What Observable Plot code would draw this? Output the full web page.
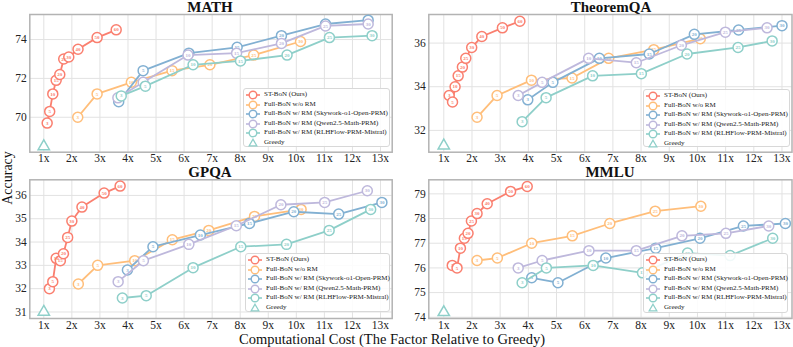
<!DOCTYPE html>
<html><head><meta charset="utf-8">
<script src="https://cdn.jsdelivr.net/npm/d3@7"></script>
<script src="https://cdn.jsdelivr.net/npm/@observablehq/plot@0.6"></script>
<style>
body{margin:0;background:#fff;}
#wrap{position:relative;width:793px;height:347px;overflow:hidden;font-family:"Liberation Serif",serif;}
.panel{position:absolute;}
.panel svg{overflow:visible;}
.legend{position:absolute;background:rgba(255,255,255,0.88);border:1px solid #d8d8d8;border-radius:3px;box-sizing:border-box;font-size:7px;color:#222;padding-top:1px;}
.legend .row{height:9.6px;line-height:9.6px;white-space:nowrap;position:relative;}
.legend .row svg{position:absolute;left:1px;top:0;}
.legend .row span{position:absolute;left:20px;top:0;}
#labels{position:absolute;left:0;top:0;}
</style></head>
<body><div id="wrap"><svg id="labels" width="793" height="347"></svg></div>
<script>
// ---------- data ----------
const seriesNames = ["ST-BoN (Ours)","Full-BoN w/o RM","Full-BoN w/ RM (Skywork-o1-Open-PRM)","Full-BoN w/ RM (Qwen2.5-Math-PRM)","Full-BoN w/ RM (RLHFlow-PRM-Mistral)"];
const seriesColors = ["#FA7F6F","#FFBE7A","#82B0D2","#BEB8DC","#8ECFC9"];
const greedyName = "Greedy";
const greedyColor = "#8ECFC9";
const stN = [3,5,10,15,20,25,30,40,50,60];
const fullN = [3,5,10,15,20,25,30];
const xTicks = [1,2,3,4,5,6,7,8,9,10,11,12,13];

// MATH
const mathStCost = [1.12,1.21,1.32,1.44,1.57,1.71,1.89,2.22,2.90,3.58];
const mathStAcc  = [69.7,70.3,71.2,71.9,72.2,73.0,73.1,73.5,74.1,74.5];
const mathNoRmCost = [2.21,2.90,4.12,5.57,6.92,8.48,10.15];
const mathNoRmAcc  = [70.0,71.2,71.8,72.4,72.7,73.2,73.9];
const mathSkyCost = [3.67,4.54,6.17,7.89,9.47,11.04,12.56];
const mathSkyAcc  = [70.8,72.4,73.3,73.6,74.2,74.8,75.0];
const mathQwenCost = [3.64,4.54,6.14,7.87,9.47,11.04,12.56];
const mathQwenAcc  = [71.0,71.8,73.2,73.3,73.8,74.7,74.8];
const mathRlhfCost = [3.76,4.62,6.32,8.01,9.67,11.18,12.70];
const mathRlhfAcc  = [71.1,71.6,72.7,72.9,73.2,74.1,74.2];
const mathGreedy = 68.5;
const mathYTicks = [70,72,74];

// TheoremQA
const thmStCost = [1.19,1.31,1.40,1.51,1.66,1.78,1.99,2.35,3.08,3.70];
const thmStAcc  = [33.6,33.3,34.0,34.5,34.9,35.3,35.8,36.3,36.7,37.0];
const thmNoRmCost = [2.18,2.89,4.11,5.55,6.85,8.45,10.10];
const thmNoRmAcc  = [32.6,33.6,34.3,34.4,35.3,35.7,36.2];
const thmSkyCost = [3.98,4.87,6.52,8.29,9.89,11.46,13.00];
const thmSkyAcc  = [33.4,34.2,35.3,35.5,36.4,36.6,36.8];
const thmQwenCost = [3.64,4.49,6.14,7.83,9.43,10.99,12.47];
const thmQwenAcc  = [33.6,34.2,35.3,35.1,35.9,36.5,36.7];
const thmRlhfCost = [3.78,4.63,6.28,8.01,9.63,11.44,12.65];
const thmRlhfAcc  = [32.4,33.5,34.5,34.6,35.5,35.8,36.1];
const thmGreedy = 31.3;
const thmYTicks = [32,34,36];

// GPQA
const gpqaStCost = [1.20,1.32,1.44,1.59,1.70,1.85,2.00,2.36,3.15,3.72];
const gpqaStAcc  = [32.0,32.3,33.3,33.2,33.5,34.2,34.9,35.5,36.1,36.4];
const gpqaNoRmCost = [2.23,2.92,4.24,5.58,6.88,8.51,10.17];
const gpqaNoRmAcc  = [32.2,33.0,33.2,34.1,34.5,35.1,35.4];
const gpqaSkyCost = [3.98,4.89,6.58,8.33,9.91,11.51,13.05];
const gpqaSkyAcc  = [32.8,33.8,34.3,34.8,35.3,35.2,35.7];
const gpqaQwenCost = [3.65,4.55,6.17,7.86,9.45,11.01,12.53];
const gpqaQwenAcc  = [32.3,33.2,33.9,34.7,35.6,35.7,36.2];
const gpqaRlhfCost = [3.80,4.65,6.32,8.02,9.65,11.17,12.65];
const gpqaRlhfAcc  = [31.6,31.7,32.9,33.8,33.9,34.5,35.4];
const gpqaGreedy = 31.0;
const gpqaYTicks = [31,32,33,34,35,36];

// MMLU
const mmluStCost = [1.30,1.47,1.59,1.73,1.86,1.98,2.18,2.54,3.37,3.96];
const mmluStAcc  = [76.1,76.0,76.8,77.2,77.4,77.9,78.2,78.6,79.1,79.3];
const mmluNoRmCost = [2.18,2.90,4.12,5.56,6.89,8.50,10.12];
const mmluNoRmAcc  = [76.3,76.4,77.0,77.3,77.8,78.3,78.5];
const mmluSkyCost = [4.12,5.05,6.75,8.52,10.09,11.63,13.12];
const mmluSkyAcc  = [75.6,75.4,76.4,76.8,77.2,77.7,77.8];
const mmluQwenCost = [3.64,4.49,6.15,7.83,9.45,11.01,12.53];
const mmluQwenAcc  = [76.0,76.3,76.7,76.7,77.3,77.4,77.7];
const mmluRlhfCost = [3.78,4.64,6.30,8.05,9.65,11.16,12.67];
const mmluRlhfAcc  = [75.4,76.0,76.1,75.8,76.6,76.5,77.2];
const mmluGreedy = 74.2;
const mmluYTicks = [74,75,76,77,78,79];

// ---------- build ----------
function rowsOf(costs, accs, ns, key){
  return costs.map((c,i)=>({key, cost:c, acc:accs[i], n:ns[i]}));
}
const panels = [
  {title:"MATH", left:0, top:0, w:396, h:170, mt:14, mb:18.3, ml:29.3, mr:4.3, xdom:[0.501,13.417], ydom:[68.2,75.29], yticks:mathYTicks, greedy:mathGreedy,
   data:[[mathStCost,mathStAcc,stN],[mathNoRmCost,mathNoRmAcc,fullN],[mathSkyCost,mathSkyAcc,fullN],[mathQwenCost,mathQwenAcc,fullN],[mathRlhfCost,mathRlhfAcc,fullN]],
   legend:{left:243,top:88,w:147,h:59}, tx:210, ty:12},
  {title:"TheoremQA", left:396, top:0, w:397, h:170, mt:14, mb:18.3, ml:32.3, mr:1.5, xdom:[0.468,13.355], ydom:[31.0,37.31], yticks:thmYTicks, greedy:thmGreedy,
   data:[[thmStCost,thmStAcc,stN],[thmNoRmCost,thmNoRmAcc,fullN],[thmSkyCost,thmSkyAcc,fullN],[thmQwenCost,thmQwenAcc,fullN],[thmRlhfCost,thmRlhfAcc,fullN]],
   legend:{left:643,top:89,w:147,h:58}, tx:611, ty:12},
  {title:"GPQA", left:0, top:166, w:396, h:170, mt:13.3, mb:18, ml:29.3, mr:4.3, xdom:[0.501,13.417], ydom:[30.72,36.67], yticks:gpqaYTicks, greedy:gpqaGreedy,
   data:[[gpqaStCost,gpqaStAcc,stN],[gpqaNoRmCost,gpqaNoRmAcc,fullN],[gpqaSkyCost,gpqaSkyAcc,fullN],[gpqaQwenCost,gpqaQwenAcc,fullN],[gpqaRlhfCost,gpqaRlhfAcc,fullN]],
   legend:{left:245,top:253,w:145,h:59}, tx:210, ty:177},
  {title:"MMLU", left:396, top:166, w:397, h:170, mt:13.3, mb:18, ml:32.3, mr:1.5, xdom:[0.468,13.355], ydom:[73.95,79.57], yticks:mmluYTicks, greedy:mmluGreedy,
   data:[[mmluStCost,mmluStAcc,stN],[mmluNoRmCost,mmluNoRmAcc,fullN],[mmluSkyCost,mmluSkyAcc,fullN],[mmluQwenCost,mmluQwenAcc,fullN],[mmluRlhfCost,mmluRlhfAcc,fullN]],
   legend:{left:643,top:253,w:145,h:60}, tx:610, ty:177}
];

const wrap = document.getElementById("wrap");
const labels = d3.select("#labels");

panels.forEach(p => {
  const marks = [
    Plot.gridX(xTicks, {stroke:"#e2e2e2", strokeOpacity:1, strokeWidth:1}),
    Plot.gridY(p.yticks, {stroke:"#e2e2e2", strokeOpacity:1, strokeWidth:1}),
    Plot.frame({stroke:"#b3b3b3", strokeWidth:1.5})
  ];
  p.data.forEach((d, si) => {
    const rows = rowsOf(d[0], d[1], d[2], seriesNames[si]);
    marks.push(
      Plot.line(rows, {x:"cost", y:"acc", stroke:"key", strokeWidth:1.8}),
      Plot.dot(rows, {x:"cost", y:"acc", stroke:"key", fill:"white", r:5, strokeWidth:1.5}),
      Plot.text(rows, {x:"cost", y:"acc", text:"n", fill:"key", fontSize:5, fontWeight:"bold"})
    );
  });
  marks.push(Plot.dot([{cost:1, acc:p.greedy}], {x:"cost", y:"acc", symbol:"triangle", stroke:greedyColor, fill:"white", r:4.2, strokeWidth:1.5}));
  const chart = Plot.plot({
    width:p.w, height:p.h,
    marginTop:p.mt, marginBottom:p.mb, marginLeft:p.ml, marginRight:p.mr,
    style:{fontFamily:"'Liberation Serif', serif", fontSize:"11.5px", color:"#222", background:"transparent", overflow:"visible"},
    x:{domain:p.xdom, ticks:xTicks, tickFormat:d=>d+"x", label:null, tickSize:0, tickPadding:2},
    y:{domain:p.ydom, ticks:p.yticks, tickFormat:d=>String(d), label:null, tickSize:0, tickPadding:3},
    color:{domain:seriesNames, range:seriesColors},
    marks
  });
  const div = document.createElement("div");
  div.className = "panel";
  div.style.left = p.left + "px"; div.style.top = p.top + "px";
  div.appendChild(chart);
  wrap.appendChild(div);

  // legend
  const lg = document.createElement("div");
  lg.className = "legend";
  Object.assign(lg.style, {left:p.legend.left+"px", top:p.legend.top+"px", width:p.legend.w+"px", height:p.legend.h+"px"});
  const entries = seriesNames.map((n,i)=>({name:n, color:seriesColors[i], tri:false})).concat([{name:greedyName, color:greedyColor, tri:true}]);
  entries.forEach(e => {
    const row = document.createElement("div");
    row.className = "row";
    const s = e.tri
      ? `<svg width="18" height="10"><path d="M8,1.2 L11.8,7.8 L4.2,7.8 Z" fill="white" stroke="${e.color}" stroke-width="1.3"/></svg>`
      : `<svg width="18" height="10"><line x1="1" x2="15" y1="5" y2="5" stroke="${e.color}" stroke-width="1.6"/><circle cx="8" cy="5" r="3.8" fill="white" stroke="${e.color}" stroke-width="1.4"/></svg>`;
    row.innerHTML = s + `<span>${e.name}</span>`;
    lg.appendChild(row);
  });
  wrap.appendChild(lg);

  labels.append("text").attr("x", p.tx).attr("y", p.ty).attr("text-anchor","middle")
    .attr("font-family","'Liberation Serif', serif").attr("font-weight","bold").attr("font-size",15).attr("fill","#111").text(p.title);
});

labels.append("text").attr("transform","translate(12,178) rotate(-90)").attr("text-anchor","middle")
  .attr("font-family","'Liberation Serif', serif").attr("font-size",14).attr("fill","#111").text("Accuracy");
labels.append("text").attr("x",392).attr("y",344).attr("text-anchor","middle")
  .attr("font-family","'Liberation Serif', serif").attr("font-size",14.5).attr("fill","#111").text("Computational Cost (The Factor Relative to Greedy)");
wrap.appendChild(document.getElementById("labels"));
</script></body></html>
